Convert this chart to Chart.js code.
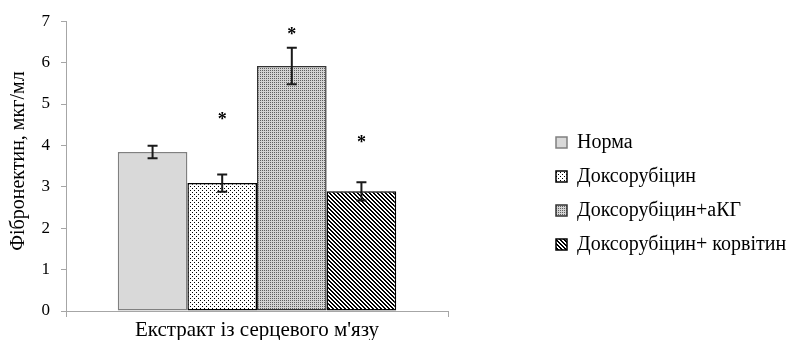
<!DOCTYPE html>
<html>
<head>
<meta charset="utf-8">
<script src="https://cdn.jsdelivr.net/npm/chart.js@4.4.1/dist/chart.umd.min.js"></script>
<style>
  html, body { margin: 0; padding: 0; background: #fff; }
  #wrap { width: 796px; height: 340px; position: relative; }
</style>
</head>
<body>
<div id="wrap"><canvas id="chart"></canvas></div>
<script>
// ===== DATA =====
const categories = ["Екстракт із серцевого м'язу"];
const seriesNames = ["Норма", "Доксорубіцин", "Доксорубіцин+аКГ", "Доксорубіцин+ корвітин"];
const values = [3.84, 3.09, 5.92, 2.89];
const errors = [0.15, 0.21, 0.44, 0.22];
const starAt = [null, 4.65, 6.71, 4.10];   // y value of the * marks
const yTicks = [0, 1, 2, 3, 4, 5, 6, 7];

const FONT = "Liberation Serif";

// ===== FILL PATTERNS =====
function makePattern(w, h, bg, draw) {
    const c = document.createElement("canvas");
    c.width = w; c.height = h;
    const g = c.getContext("2d");
    g.fillStyle = bg;
    g.fillRect(0, 0, w, h);
    draw(g);
    return g.createPattern(c, "repeat");
}

const fills = [
    "#d9d9d9",
    // sparse black dots
    makePattern(4, 4, "#ffffff", g => { g.fillStyle = "#000"; g.fillRect(0, 0, 1, 1); g.fillRect(2, 2, 1, 1); }),
    // dense fine dots -> medium grey
    makePattern(2, 2, "#d4d4d4", g => { g.fillStyle = "#606060"; g.fillRect(0, 0, 1, 1); }),
    // diagonal stripes
    makePattern(4, 4, "#ffffff", g => {
        g.fillStyle = "#000";
        for (let i = 0; i < 4; i++) {
            g.fillRect(i, i, 1, 1);
            g.fillRect((i + 1) % 4, i, 1, 1);
        }
    })
];
const borders = ["#808080", "#000", "#333", "#000"];

// ===== ERROR BARS + STARS =====
const errorBars = {
    id: "errorBars",
    afterDatasetsDraw(chart) {
        const ctx = chart.ctx;
        const y = chart.scales.y;
        ctx.save();
        ctx.strokeStyle = "#1a1a1a";
        ctx.lineWidth = 2;
        chart.data.datasets.forEach((ds, i) => {
            const bar = chart.getDatasetMeta(i).data[0];
            const top = y.getPixelForValue(values[i] + errors[i]);
            const bot = y.getPixelForValue(values[i] - errors[i]);
            ctx.beginPath();
            ctx.moveTo(bar.x, top); ctx.lineTo(bar.x, bot);
            ctx.moveTo(bar.x - 5, top); ctx.lineTo(bar.x + 5, top);
            ctx.moveTo(bar.x - 5, bot); ctx.lineTo(bar.x + 5, bot);
            ctx.stroke();
            if (starAt[i] != null) {
                ctx.fillStyle = "#000";
                ctx.font = "bold 18px " + FONT;
                ctx.textAlign = "center";
                ctx.textBaseline = "alphabetic";
                ctx.fillText("*", bar.x, y.getPixelForValue(starAt[i]) + 7);
            }
        });
        ctx.restore();
    }
};

// legend on the right is capped to a third of the half width, let it be wider
const legendWidth = {
    id: "legendWidth",
    beforeInit(chart) {
        const legend = chart.legend;
        const fit = legend.fit;
        legend.fit = function () {
            this.maxWidth = 320;
            fit.call(this);
            this.width = 254;
        };
    }
};

new Chart(document.getElementById("chart"), {
    type: "bar",
    data: {
        labels: categories,
        datasets: seriesNames.map((name, i) => ({
            label: name,
            data: [values[i]],
            backgroundColor: fills[i],
            borderColor: borders[i],
            borderWidth: 1.5,
            borderSkipped: false,
            categoryPercentage: 0.729,
            barPercentage: 1.0
        }))
    },
    options: {
        responsive: true,
        maintainAspectRatio: false,
        animation: false,
        layout: { padding: { top: 21, right: 0, bottom: -4, left: 0 } },
        scales: {
            x: {
                grid: { display: true, drawOnChartArea: false, drawTicks: true, tickLength: 6, color: "#a6a6a6" },
                border: { color: "#a6a6a6" },
                ticks: { color: "#000", padding: 3, font: { family: FONT, size: 21, lineHeight: 1 } }
            },
            y: {
                min: 0,
                max: 7,
                afterBuildTicks(s) { s.ticks = yTicks.map(v => ({ value: v })); },
                afterFit(s) { s.width = 66; },
                grid: { drawOnChartArea: false, tickLength: 5, color: "#a6a6a6" },
                border: { color: "#a6a6a6" },
                ticks: { color: "#000", padding: 11, font: { family: FONT, size: 17 } },
                title: {
                    display: true,
                    text: "  Фібронектин, мкг/мл",
                    color: "#000",
                    padding: { top: 7, bottom: 4 },
                    font: { family: FONT, size: 20 }
                }
            },
            y2: {
                position: "right",
                display: true,
                grid: { display: false },
                border: { display: false },
                ticks: { display: false },
                afterFit(s) { s.width = 94; }
            }
        },
        plugins: {
            tooltip: { enabled: false },
            legend: {
                position: "right",
                align: "center",
                title: { display: true, text: " ", padding: 5, font: { size: 10 } },
                labels: {
                    color: "#000",
                    boxWidth: 11,
                    boxHeight: 11,
                    padding: 14,
                    font: { family: FONT, size: 20 }
                }
            }
        }
    },
    plugins: [errorBars, legendWidth]
});
</script>
</body>
</html>
